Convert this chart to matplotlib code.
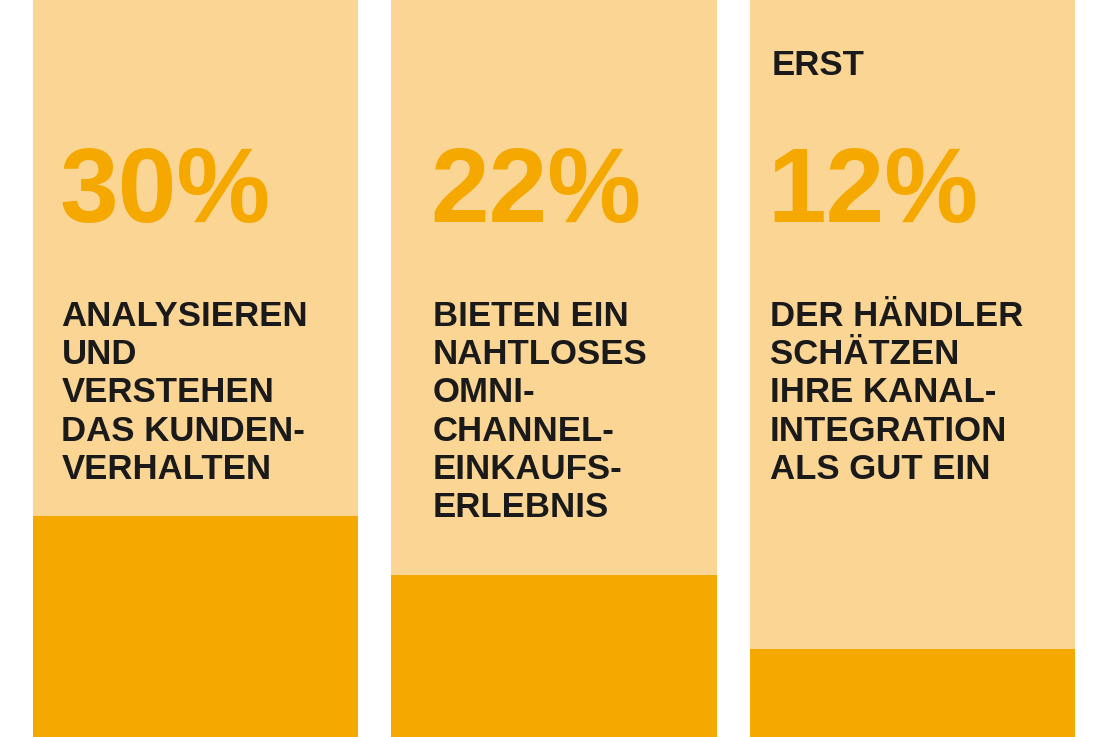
import matplotlib
matplotlib.use("Agg")
import matplotlib.pyplot as plt

values = [30, 22, 12]
numbers = ["30%", "22%", "12%"]
prefixes = ["", "", "ERST"]
labels = ["ANALYSIEREN\nUND\nVERSTEHEN\nDAS KUNDEN-\nVERHALTEN",
          "BIETEN EIN\nNAHTLOSES\nOMNI-\nCHANNEL-\nEINKAUFS-\nERLEBNIS",
          "DER HÄNDLER\nSCHÄTZEN\nIHRE KANAL-\nINTEGRATION\nALS GUT EIN"]
text_offsets = [0.075, 0.11, 0.05]

light = "#FBD594"
dark = "#F5A800"

fig = plt.figure(figsize=(11.1, 7.37), dpi=100)
ax = fig.add_axes([0, 0, 1, 1])
ax.set_xlim(-0.545, 2.551)
ax.set_ylim(0, 100)
ax.axis("off")
w = 0.907
xs = list(range(len(values)))
ax.bar(xs, [100]*len(values), width=w, color=light, align="center")
ax.bar(xs, values, width=w, color=dark, align="center")
font = "Liberation Sans"
for i, x in enumerate(xs):
    left = x - w/2 + text_offsets[i]
    ax.text(left, 69.9, numbers[i], color=dark, fontsize=76, fontweight="bold",
            family=font, ha="left", va="baseline")
    if prefixes[i]:
        ax.text(left + 0.01, 89.8, prefixes[i], color="#1a1a1a", fontsize=25,
                fontweight="bold", family=font, ha="left", va="baseline")
    ax.text(left + 0.005, 59.3, labels[i], color="#1a1a1a", fontsize=25,
            fontweight="bold", family=font, ha="left", va="top", linespacing=1.2)
fig.savefig("out.png", dpi=100)
